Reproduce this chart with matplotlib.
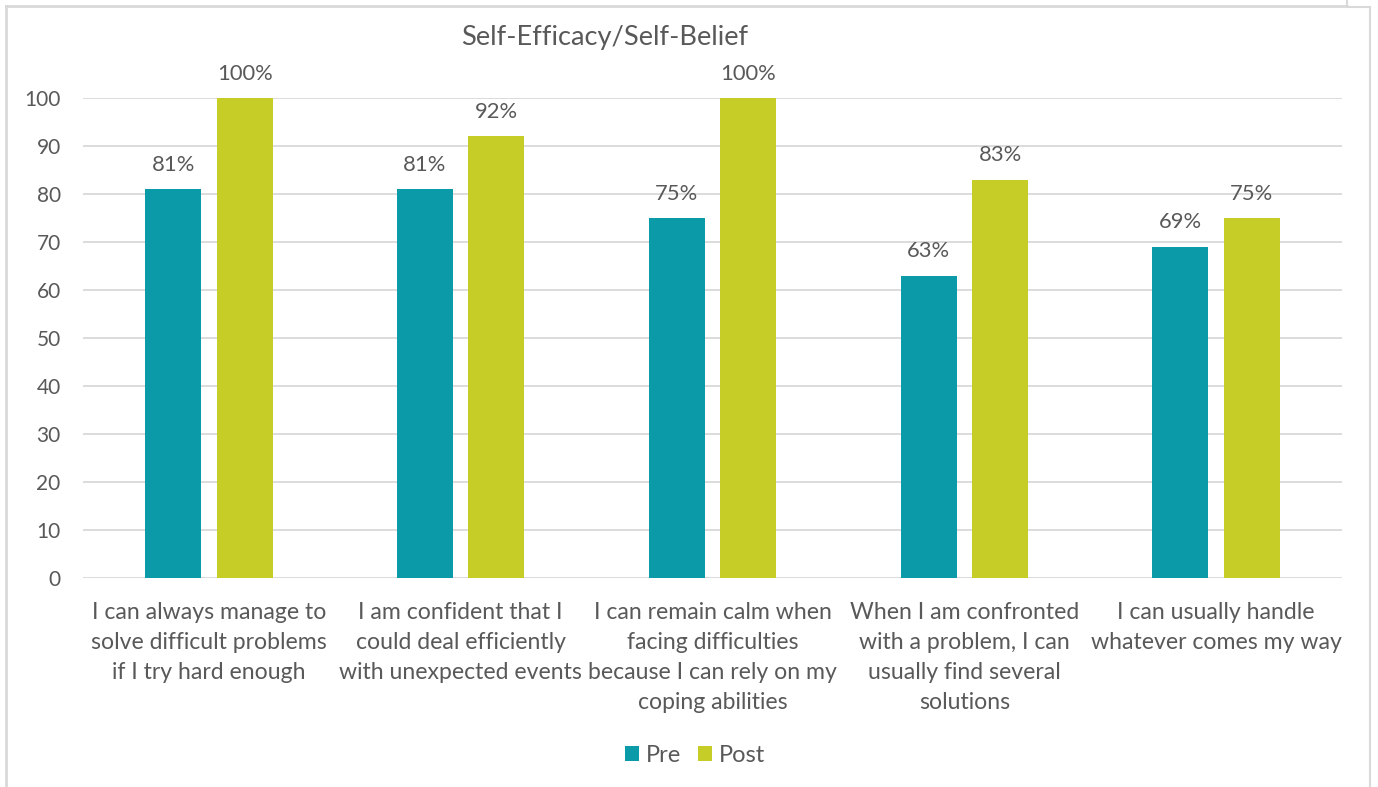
import matplotlib.pyplot as plt
import matplotlib.lines as mlines
import numpy as np

plt.rcParams['font.family'] = ['Lato', 'DejaVu Sans']

categories = [
    "I can always manage to\nsolve difficult problems\nif I try hard enough",
    "I am confident that I\ncould deal efficiently\nwith unexpected events",
    "I can remain calm when\nfacing difficulties\nbecause I can rely on my\ncoping abilities",
    "When I am confronted\nwith a problem, I can\nusually find several\nsolutions",
    "I can usually handle\nwhatever comes my way",
]
pre = [81, 81, 75, 63, 69]
post = [100, 92, 100, 83, 75]

pre_color = '#0a9aa8'
post_color = '#c5cd26'
text_color = '#595959'

fig = plt.figure(figsize=(13.78, 7.87), dpi=100)
ax = fig.add_axes([0.0602, 0.2656, 0.9137, 0.6099])

x = np.arange(len(categories))
w = 0.222
off = 0.142
b1 = ax.bar(x - off, pre, w, color=pre_color, label='Pre', zorder=3)
b2 = ax.bar(x + off, post, w, color=post_color, label='Post', zorder=3)

for bars, vals in ((b1, pre), (b2, post)):
    for rect, v in zip(bars, vals):
        ax.text(rect.get_x() + rect.get_width() / 2, v + 3.0, f"{v}%",
                ha='center', va='bottom', fontsize=15.8, color=text_color,
                clip_on=False)

ax.set_xlim(-0.5, len(categories) - 0.5)
ax.set_ylim(0, 100)
ax.set_yticks(range(0, 101, 10))
ax.yaxis.grid(True, color='#d9d9d9', linewidth=1.3, zorder=0)
ax.set_xticks(x)
ax.set_xticklabels(categories, fontsize=16.6, color=text_color, linespacing=1.54)
ax.tick_params(axis='y', labelsize=15, labelcolor=text_color, length=0, pad=16)
ax.tick_params(axis='x', length=0, pad=17)
for s in ax.spines.values():
    s.set_visible(False)

fig.text(605 / 1378, 1 - 38 / 787, "Self-Efficacy/Self-Belief", ha='center',
         va='center', fontsize=19.6, color=text_color)

ax.legend(loc='center', bbox_to_anchor=(695 / 1378, 1 - 755 / 787),
          bbox_transform=fig.transFigure, ncol=2, frameon=False,
          fontsize=17, labelcolor=text_color, handlelength=0.6,
          handleheight=0.6, columnspacing=0.7, handletextpad=0.3)

# outer chart frame lines
frame = '#d9d9d9'
fig.add_artist(mlines.Line2D([6 / 1378, 6 / 1378], [0, 1 - 6 / 787],
                             transform=fig.transFigure, color=frame, lw=2))
fig.add_artist(mlines.Line2D([6 / 1378, 1347 / 1378], [1 - 6 / 787, 1 - 6 / 787],
                             transform=fig.transFigure, color=frame, lw=2))
fig.add_artist(mlines.Line2D([1347 / 1378, 1347 / 1378], [1 - 6 / 787, 1],
                             transform=fig.transFigure, color=frame, lw=1.5))
fig.add_artist(mlines.Line2D([1370 / 1378, 1370 / 1378], [0, 1 - 7 / 787],
                             transform=fig.transFigure, color=frame, lw=1.5))
fig.add_artist(mlines.Line2D([1347 / 1378, 1370 / 1378], [1 - 7 / 787, 1 - 7 / 787],
                             transform=fig.transFigure, color=frame, lw=1.5))

fig.savefig('out.png', dpi=100)
